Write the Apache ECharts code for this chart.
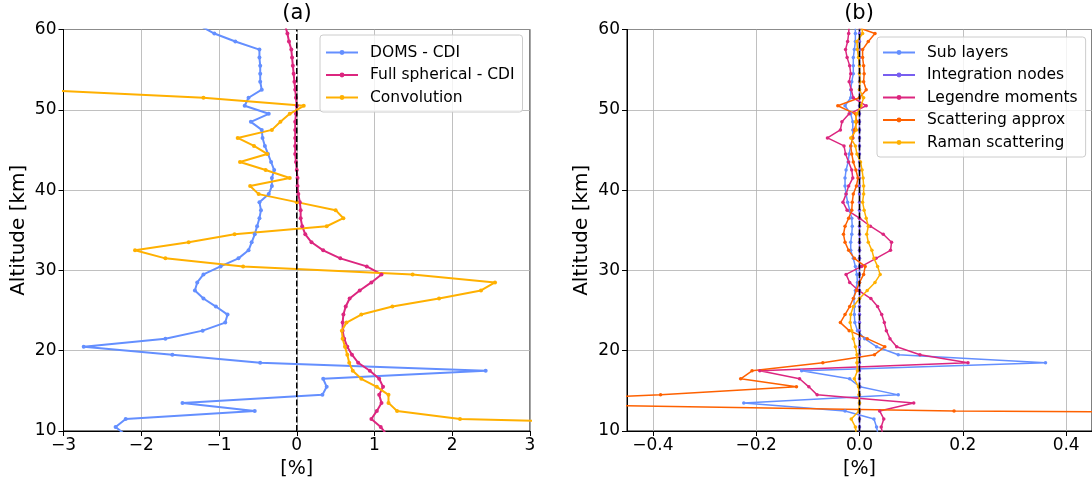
<!DOCTYPE html>
<html>
<head>
<meta charset="utf-8">
<script src="https://cdn.jsdelivr.net/npm/echarts@6/dist/echarts.min.js"></script>
<style>
  html, body { margin: 0; padding: 0; background: #ffffff; }
  #chart { width: 1092px; height: 484px; }
</style>
</head>
<body>
<div id="chart"></div>
<script>
// Altitude levels (km), top to bottom; first and last lie just outside the plotted 10–60 km window
const altitudes = [60.5, 59.5, 58.5, 57.5, 56.5, 55.5, 54.5, 53.5, 52.5, 51.5, 50.5,
  49.5, 48.5, 47.5, 46.5, 45.5, 44.5, 43.5, 42.5, 41.5, 40.5,
  39.5, 38.5, 37.5, 36.5, 35.5, 34.5, 33.5, 32.5, 31.5, 30.5,
  29.5, 28.5, 27.5, 26.5, 25.5, 24.5, 23.5, 22.5, 21.5, 20.5,
  19.5, 18.5, 17.5, 16.5, 15.5, 14.5, 13.5, 12.5, 11.5, 10.5, 9.5];

// Panel (a): relative differences [%]
const domsCdi = [-1.25, -1.06, -0.79, -0.48, -0.48, -0.47, -0.47, -0.47, -0.45, -0.62, -0.67,
  -0.36, -0.59, -0.45, -0.44, -0.41, -0.37, -0.33, -0.29, -0.32, -0.32,
  -0.36, -0.48, -0.46, -0.48, -0.51, -0.54, -0.58, -0.62, -0.75, -0.98,
  -1.20, -1.28, -1.31, -1.20, -1.04, -0.89, -0.92, -1.21, -1.69, -2.74,
  -1.60, -0.47, 2.43, 0.34, 0.385, 0.33, -1.47, -0.54, -2.20, -2.33, -2.20];
const fullSphericalCdi = [-0.15, -0.12, -0.10, -0.07, -0.06, -0.05, -0.04, -0.03, -0.02, -0.01, 0.0,
  -0.01, -0.02, -0.02, -0.02, -0.02, -0.02, -0.01, 0.0, 0.01, 0.01,
  0.02, 0.04, 0.05, 0.05, 0.07, 0.11, 0.19, 0.34, 0.56, 0.90,
  1.09, 0.96, 0.81, 0.68, 0.63, 0.60, 0.59, 0.59, 0.61, 0.65,
  0.71, 0.79, 0.94, 1.06, 1.11, 1.06, 1.09, 1.03, 0.96, 1.08, 1.16];
const convolution = [null, null, null, null, null, null, null, null, -3.33, -1.20, 0.09,
  -0.09, -0.21, -0.32, -0.76, -0.55, -0.38, -0.73, -0.40, -0.09, -0.60,
  -0.49, 0.0, 0.50, 0.60, 0.385, -0.80, -1.39, -2.08, -1.69, -0.69,
  1.49, 2.55, 2.37, 1.83, 1.23, 0.83, 0.64, 0.58, 0.59, 0.62,
  0.65, 0.675, 0.72, 0.83, 1.03, 1.18, 1.18, 1.29, 2.10, 6.5, null];

// Panel (b): relative differences [%]
const subLayers = [-0.008, -0.008, -0.008, -0.010, -0.012, -0.012, -0.012, -0.015, -0.017, -0.017, -0.028,
  -0.017, -0.013, -0.013, -0.013, -0.017, -0.020, -0.022, -0.026, -0.028, -0.028,
  -0.026, -0.023, -0.019, -0.015, -0.014, -0.015, -0.017, -0.017, -0.012, -0.008,
  -0.005, -0.004, -0.008, -0.011, -0.010, -0.010, -0.009, -0.004, 0.010, 0.033,
  0.075, 0.360, -0.112, -0.019, 0.001, 0.075, -0.224, -0.028, 0.028, 0.033, 0.036];
const integrationNodes = [0, 0, 0, 0, 0, 0, 0, 0, 0, 0, 0,
  0, 0, 0, 0, 0, 0, 0, 0, 0, 0,
  0, 0, 0, 0, 0, 0, 0, 0, 0, 0,
  0, 0, 0, 0, 0, 0, 0, 0, 0, 0,
  0, 0, 0, 0, 0, 0, 0, 0, 0, 0, 0];
const legendreMoments = [-0.020, -0.021, -0.023, -0.027, -0.024, -0.019, -0.017, -0.020, -0.016, -0.012, 0.013,
  -0.020, -0.034, -0.037, -0.062, -0.030, -0.027, -0.021, -0.015, -0.013, -0.021,
  -0.026, -0.032, -0.024, 0.0, 0.021, 0.046, 0.062, 0.060, 0.032, 0.004,
  -0.026, -0.019, -0.002, 0.022, 0.035, 0.043, 0.048, 0.052, 0.059, 0.072,
  0.117, 0.210, -0.193, -0.116, -0.098, -0.082, 0.105, 0.039, 0.047, 0.042, 0.045];
const scatteringApprox = [-0.014, 0.030, 0.017, 0.006, 0.006, 0.008, 0.009, 0.008, 0.013, 0.0, -0.042,
  -0.008, -0.005, -0.010, -0.013, -0.017, -0.015, -0.012, -0.007, -0.003, -0.006,
  -0.012, -0.014, -0.015, -0.021, -0.028, -0.031, -0.028, -0.021, -0.010, 0.011,
  0.008, 0.0, -0.006, -0.012, -0.019, -0.028, -0.037, -0.020, 0.015, 0.049,
  0.029, -0.071, -0.208, -0.230, -0.122, -0.385, -0.80, 0.183, 3.0, null, null];
const ramanScattering = [0.004, 0.006, -0.005, -0.004, -0.002, 0.0, 0.0, 0.001, 0.0, 0.008, 0.003,
  -0.005, -0.008, -0.006, -0.017, -0.008, -0.005, 0.002, 0.005, 0.007, 0.008,
  0.008, 0.006, 0.009, 0.013, 0.017, 0.014, 0.017, 0.024, 0.028, 0.035,
  0.040, 0.030, 0.015, 0.0, -0.012, -0.017, -0.018, -0.015, -0.012, -0.008,
  -0.005, -0.005, -0.004, -0.010, -0.002, -0.001, 0.0, -0.001, -0.016, -0.008, -0.006];

// Axis tick values
const xTicksB = [-0.4, -0.2, 0.0, 0.2, 0.4];

const FONT = 'DejaVu Sans';
const GRID_COLOR = '#b0b0b0';

function profile(values) {
  const out = [];
  values.forEach((v, i) => { if (v !== null) out.push([v, altitudes[i]]); });
  return out;
}

function minusSign(s) { return String(s).replace('-', '\u2212'); }

function lineSeries(name, values, color, axisIdx, width, size) {
  return {
    name: name,
    type: 'line',
    xAxisIndex: axisIdx,
    yAxisIndex: axisIdx,
    data: profile(values),
    symbol: 'circle',
    symbolSize: size,
    showSymbol: true,
    clip: true,
    color: color,
    lineStyle: { color: color, width: width },
    itemStyle: { color: color },
    emphasis: { disabled: true },
    z: 3
  };
}

function zeroLine(axisIdx) {
  return {
    type: 'line',
    xAxisIndex: axisIdx,
    yAxisIndex: axisIdx,
    data: [[0, 10], [0, 60]],
    symbol: 'none',
    silent: true,
    lineStyle: { color: '#000000', width: 1.5, type: [6, 2.5] },
    emphasis: { disabled: true },
    z: 10
  };
}

const commonY = {
  type: 'value',
  min: 10, max: 60, interval: 10,
  name: 'Altitude [km]',
  nameLocation: 'middle',
  nameGap: 35,
  nameTextStyle: { fontFamily: FONT, fontSize: 20, color: '#000' },
  axisLine: { show: true, onZero: false, lineStyle: { color: '#000', width: 1 } },
  axisTick: { show: true, length: 5, lineStyle: { color: '#000', width: 1 } },
  axisLabel: { fontFamily: FONT, fontSize: 17, color: '#000', margin: 7 },
  splitLine: { show: true, lineStyle: { color: GRID_COLOR, width: 0.8 } }
};

const commonX = {
  type: 'value',
  name: '[%]',
  nameLocation: 'middle',
  nameGap: 29,
  nameTextStyle: { fontFamily: FONT, fontSize: 19, color: '#000' },
  axisLine: { show: true, onZero: false, lineStyle: { color: '#000', width: 1 } },
  axisTick: { show: true, length: 5, lineStyle: { color: '#000', width: 1 } },
  axisLabel: { fontFamily: FONT, fontSize: 17, color: '#000', margin: 6 },
  splitLine: { show: true, lineStyle: { color: GRID_COLOR, width: 0.8 } }
};

const legendCommon = {
  orient: 'vertical',
  itemWidth: 32,
  itemHeight: 6,
  itemGap: 5.5,
  selectedMode: false,
  backgroundColor: 'rgba(255,255,255,0.8)',
  borderColor: '#cccccc',
  borderWidth: 1,
  borderRadius: 3,
  textStyle: { fontFamily: FONT, fontSize: 15.5, color: '#000', lineHeight: 17, padding: [0, 0, 0, 7] }
};

const chart = echarts.init(document.getElementById('chart'), null, { renderer: 'canvas' });

chart.setOption({
  animation: false,
  backgroundColor: '#ffffff',
  grid: [
    { left: 63.5, top: 29.5, width: 466.5, height: 405, show: true, borderColor: '#000', borderWidth: 1, containLabel: false },
    { left: 627, top: 29.5, width: 466, height: 405, show: true, borderColor: '#000', borderWidth: 1, containLabel: false }
  ],
  xAxis: [
    Object.assign({}, commonX, {
      gridIndex: 0, min: -3, max: 3, interval: 1,
      axisLabel: Object.assign({}, commonX.axisLabel, { formatter: v => minusSign(v) })
    }),
    Object.assign({}, commonX, {
      gridIndex: 1, min: -0.45, max: 0.45,
      axisTick: Object.assign({}, commonX.axisTick, { customValues: xTicksB }),
      axisLabel: Object.assign({}, commonX.axisLabel, { customValues: xTicksB, formatter: v => minusSign(v.toFixed(1)) })
    })
  ],
  yAxis: [
    Object.assign({}, commonY, { gridIndex: 0 }),
    Object.assign({}, commonY, { gridIndex: 1 })
  ],
  legend: [
    Object.assign({}, legendCommon, {
      left: 320, top: 35, padding: [9, 8, 6, 5],
      data: ['DOMS - CDI', 'Full spherical - CDI', 'Convolution']
    }),
    Object.assign({}, legendCommon, {
      left: 877, top: 37, padding: [7, 8, 6, 5],
      data: ['Sub layers', 'Integration nodes', 'Legendre moments', 'Scattering approx', 'Raman scattering']
    })
  ],
  graphic: [
    { type: 'text', x: 297, y: 3, style: { text: '(a)', font: '21px "DejaVu Sans"', fill: '#000', textAlign: 'center' } },
    { type: 'text', x: 859, y: 3, style: { text: '(b)', font: '21px "DejaVu Sans"', fill: '#000', textAlign: 'center' } }
  ],
  series: [
    lineSeries('DOMS - CDI', domsCdi, '#648FFF', 0, 2, 4),
    lineSeries('Full spherical - CDI', fullSphericalCdi, '#DC267F', 0, 2, 4),
    lineSeries('Convolution', convolution, '#FFB000', 0, 2, 4),
    zeroLine(0),
    lineSeries('Sub layers', subLayers, '#648FFF', 1, 1.5, 3.5),
    lineSeries('Integration nodes', integrationNodes, '#785EF0', 1, 1.5, 3.5),
    lineSeries('Legendre moments', legendreMoments, '#DC267F', 1, 1.5, 3.5),
    lineSeries('Scattering approx', scatteringApprox, '#FE6100', 1, 1.5, 3.5),
    lineSeries('Raman scattering', ramanScattering, '#FFB000', 1, 1.5, 3.5),
    zeroLine(1)
  ]
});
</script>
</body>
</html>
